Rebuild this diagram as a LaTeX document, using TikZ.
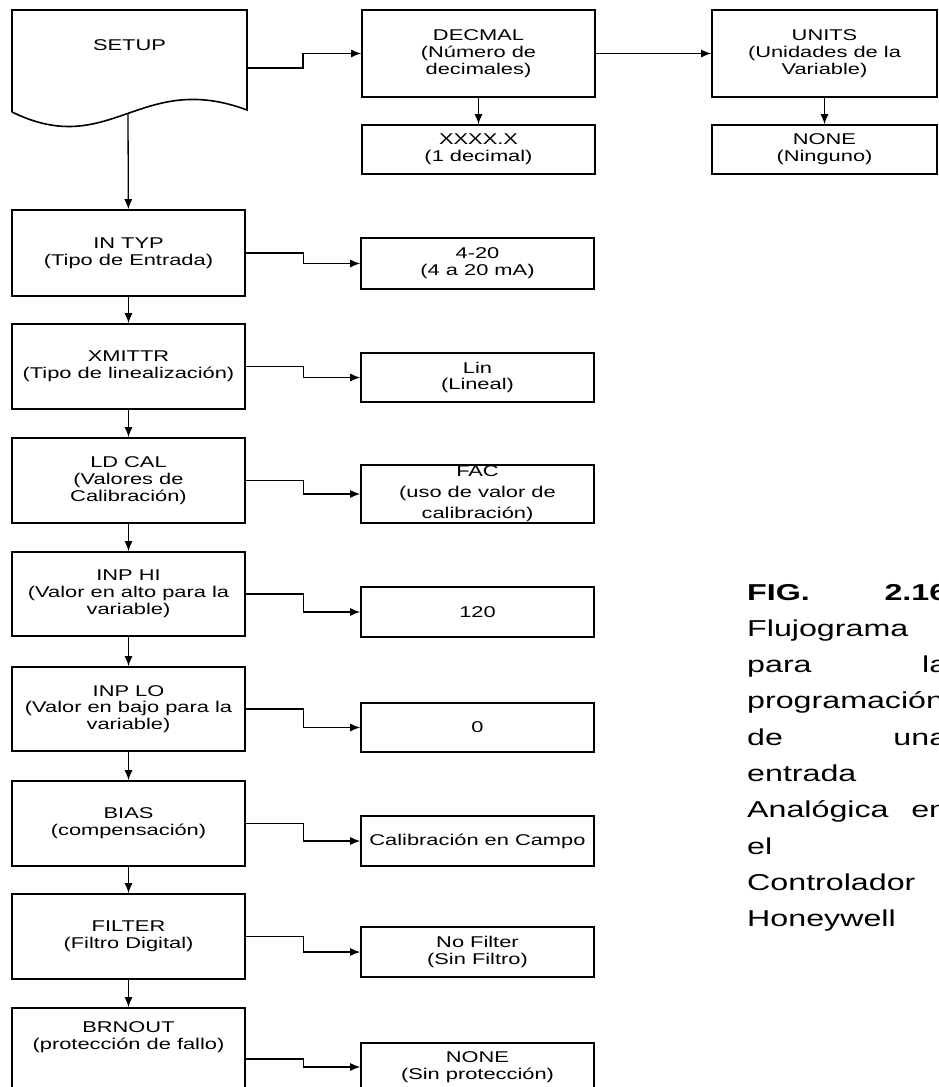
\documentclass[tikz,border=0pt]{standalone}
\usepackage{fontspec}
\setmainfont{Liberation Sans}[FakeStretch=1.4]
\usetikzlibrary{arrows.meta,positioning}

\begin{document}
\begin{tikzpicture}[x=1pt,y=-1pt,
  flowbox/.style={draw, line width=1.6pt, align=center, inner sep=1pt,
    minimum width=233pt, font=\fontsize{15.6}{16.8}\selectfont},
  conn/.style={line width=1.3pt, -{Latex[length=10pt,width=8pt]}}]

\path[use as bounding box] (0,0) rectangle (938,1087);

  % Document shape of the SETUP step
  \draw[line width=1.6pt] (12,112) -- (12,10) -- (247,10) -- (247,110)
    .. controls (140,70) and (110,160) .. (12,112);
  \node[font=\fontsize{15.6}{16.8}\selectfont] (setup) at (129.5,45) {SETUP};
  \coordinate (setupout) at (247,68);
  \coordinate (setupfoot) at (128,113);

  % Top row
  \node[flowbox, minimum height=87pt] (decmal) at (478.5,53.5) {DECMAL\\(Número de\\decimales)};
  \node[flowbox, minimum height=49pt] (onedec) at (478.5,149.5) {XXXX.X\\(1 decimal)};
  \node[flowbox, minimum width=225pt, minimum height=87pt] (units) at (824.5,53.5) {UNITS\\(Unidades de la\\Variable)};
  \node[flowbox, minimum width=225pt, minimum height=49pt] (noneu) at (824.5,149.5) {NONE\\(Ninguno)};

  % Left column, parameters
  \node[flowbox, minimum height=86pt] (intyp) at (128.5,253) {IN TYP\\(Tipo de Entrada)};
  \node[flowbox, minimum height=85pt] (xmittr) at (128.5,366.5) {XMITTR\\(Tipo de linealización)};
  \node[flowbox, minimum height=85pt] (ldcal) at (128.5,480.5) {LD CAL\\(Valores de\\Calibración)};
  \node[flowbox, minimum height=84pt] (inphi) at (128.5,594) {INP HI\\(Valor en alto para la\\variable)};
  \node[flowbox, minimum height=84pt] (inplo) at (128.5,709) {INP LO\\(Valor en bajo para la\\variable)};
  \node[flowbox, minimum height=85pt] (bias) at (128.5,823.5) {BIAS\\(compensación)};
  \node[flowbox, minimum height=85pt] (filter) at (128.5,936.5) {FILTER\\(Filtro Digital)};
  \node[flowbox, minimum height=102pt] (brnout) at (128.5,1059) {BRNOUT\\(protección de fallo)\\[30pt]\mbox{}};

  % Right column, chosen values
  \node[flowbox, minimum height=51pt] (r420) at (477.5,263.5) {4-20\\(4 a 20 mA)};
  \node[flowbox, minimum height=49pt] (lin) at (477.5,377.5) {Lin\\(Lineal)};
  \node[flowbox, minimum height=50pt, font=\fontsize{15.6}{21}\selectfont] (fac) at (477.5,494) {FAC\\(uso de valor de\\calibración)};
  \node[flowbox, minimum height=50pt] (r120) at (477.5,612) {120};
  \node[flowbox, minimum height=49pt] (rzero) at (477.5,727.5) {0};
  \node[flowbox, minimum height=50pt] (calib) at (477.5,841) {Calibración en Campo};
  \node[flowbox, minimum height=50pt] (nofilter) at (477.5,952) {No Filter\\(Sin Filtro)};
  \node[flowbox, minimum height=48pt] (noneb) at (477.5,1067) {NONE\\(Sin protección)};

  % Caption
  \node[anchor=base west, text width=200pt, align=left, inner sep=0pt,
    font=\fontsize{23}{36.3}\selectfont] (caption) at (747,600)
    {\textbf{FIG.}\hfill\textbf{2.16}\\Flujograma\\para\hfill la\\programación\\de\hfill una\\entrada\\Analógica\hfill en\\el\\Controlador\\Honeywell};

  % Draw the connectors
  \draw[conn] (setupout) -- ++(56,0) |- (decmal.west);
  \draw[conn] (decmal) -- (units);
  \draw[conn] (decmal) -- (onedec);
  \draw[conn] (units) -- (noneu);
  \draw[conn] (setupfoot) -- (intyp);
  \foreach \a/\b in {intyp/xmittr, xmittr/ldcal, ldcal/inphi, inphi/inplo,
    inplo/bias, bias/filter, filter/brnout} {
    \draw[conn] (\a) -- (\b);
  }
  \foreach \a/\b in {intyp/r420, xmittr/lin, ldcal/fac, inphi/r120,
    inplo/rzero, bias/calib, filter/nofilter, brnout/noneb} {
    \draw[conn] (\a.east) -- ++(58,0) |- (\b.west);
  }
\end{tikzpicture}
\end{document}
